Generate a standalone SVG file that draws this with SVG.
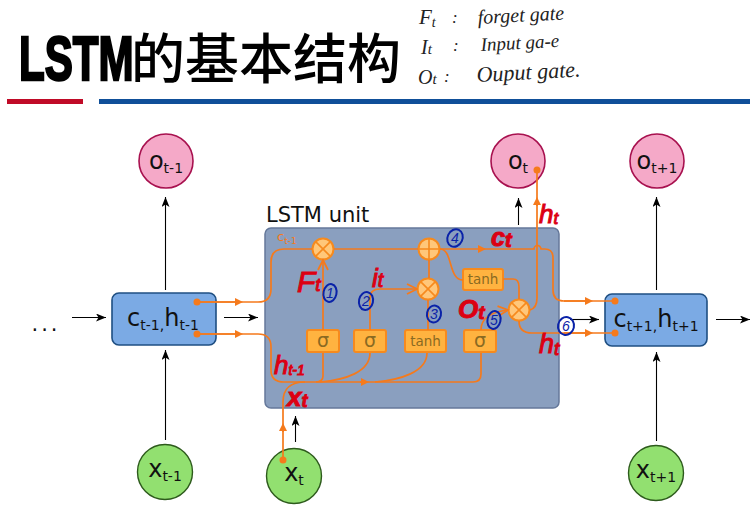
<svg xmlns="http://www.w3.org/2000/svg" width="750" height="507" viewBox="0 0 750 507">
<style>
.s{font-family:"DejaVu Sans","Noto Sans CJK SC",sans-serif}
.lab{font-size:24px;fill:#111;text-anchor:middle}
.sub{font-size:14px}
.o{fill:#f5a9c8;stroke:#a8114f;stroke-width:1.6}
.x{fill:#92e070;stroke:#2d5a1c;stroke-width:1.4}
.b{fill:#7baae4;stroke:#1f4f82;stroke-width:1.6}
.bl{fill:none;stroke:#000;stroke-width:1.1}
.or{fill:none;stroke:#f57a1c;stroke-width:1.7}
.g{fill:#ffc77a;stroke:#f68a1e;stroke-width:2}
.sq{fill:#ffb340;stroke:#f68a1e;stroke-width:2}
.gl{fill:none;stroke:#f68a1e;stroke-width:1.6}
.gt{fill:#8a6a22;text-anchor:middle}
.r{font-family:"Liberation Sans",sans-serif;font-style:italic;fill:#dc0012;stroke:#dc0012;stroke-width:1}
.n{fill:none;stroke:#0a22a8;stroke-width:2}
.nt{font-family:"Liberation Sans",sans-serif;font-size:14px;fill:#0a22a8;text-anchor:middle;font-style:italic}
.h{font-family:"Liberation Serif",serif;font-style:italic;font-size:17px;fill:#222}
</style>
<defs>
<marker id="ba" markerWidth="11" markerHeight="8" refX="10" refY="4" orient="auto" markerUnits="userSpaceOnUse"><path d="M0 0L10 4L0 8L2.500 4Z" fill="#000"/></marker>
<marker id="oa" markerWidth="9" markerHeight="8" refX="5" refY="4" orient="auto" markerUnits="userSpaceOnUse"><path d="M0 0L8 4L0 8Z" fill="#f57a1c"/></marker>
<marker id="oo" markerWidth="13" markerHeight="12" refX="11" refY="6" orient="auto" markerUnits="userSpaceOnUse"><path d="M1 1L11 6L1 11" fill="none" stroke="#f57a1c" stroke-width="1.8"/></marker>
</defs>
<g id="title">
<text transform="translate(19 80) scale(.68 1)" font-family="Liberation Sans" font-weight="bold" font-size="62" stroke="#000" stroke-width="2.400">LSTM</text>
<text x="131" y="79" font-family="Noto Sans CJK SC,sans-serif" font-size="54" font-weight="500" fill="#000">的基本结构</text>
<rect x="7" y="99" width="76" height="5" fill="#c00a27"/>
<rect x="99" y="99" width="651" height="5" fill="#0f4f99"/>
</g>
<g id="notes" class="h">
<text x="419" y="24" font-size="21">F<tspan font-size="14" dy="3">t</tspan></text>
<text x="452" y="23">:</text>
<text x="478" y="24" font-size="20" transform="rotate(-3 478 24)">forget gate</text>
<text x="421" y="54" font-size="20">I<tspan font-size="15">t</tspan></text>
<text x="453" y="51">:</text>
<text x="481" y="51" font-size="19" transform="rotate(-3 481 51)">Input ga-e</text>
<text x="418" y="84" font-size="20">O<tspan font-size="15">t</tspan></text>
<text x="444" y="82">:</text>
<text x="477" y="82" font-size="22" transform="rotate(-3 477 82)">Ouput gate.</text>
</g>
<g id="lstm-unit">
<rect x="265" y="228" width="294" height="180" rx="6" fill="#8a9fbf" stroke="#65789a" stroke-width="1.500"/>
<text class="s" x="266" y="222" font-size="21" fill="#111">LSTM unit</text>
<text class="s" x="277" y="241" font-size="13" fill="#f57a1c">c<tspan font-size="9" dy="3">t-1</tspan></text>
</g>
<g id="gate-forget"><circle class="g" cx="323" cy="249" r="10.500"/><path class="gl" d="M315.600 241.600L330.400 256.400M330.400 241.600L315.600 256.400"/></g>
<g id="gate-add"><circle class="g" cx="429" cy="249" r="10.500"/><path class="gl" d="M418.500 249H439.500M429 238.500V259.500"/></g>
<g id="gate-input"><circle class="g" cx="428" cy="289" r="10.500"/><path class="gl" d="M420.600 281.600L435.400 296.400M435.400 281.600L420.600 296.400"/></g>
<g id="gate-output"><circle class="g" cx="519" cy="310" r="10.500"/><path class="gl" d="M511.600 302.600L526.400 317.400M526.400 302.600L511.600 317.400"/></g>
<g id="sigma-1"><rect class="sq" x="307" y="330" width="32" height="22" rx="2"/><text class="s gt" x="323" y="347" font-size="19">σ</text></g>
<g id="sigma-2"><rect class="sq" x="354" y="330" width="32" height="22" rx="2"/><text class="s gt" x="370" y="347" font-size="19">σ</text></g>
<g id="tanh-1"><rect class="sq" x="405" y="330" width="41" height="22" rx="2"/><text class="s gt" x="425.500" y="346" font-size="13.500">tanh</text></g>
<g id="sigma-3"><rect class="sq" x="464" y="330" width="32" height="22" rx="2"/><text class="s gt" x="480" y="347" font-size="19">σ</text></g>
<g id="tanh-2"><rect class="sq" x="463" y="269" width="40" height="21" rx="2"/><text class="s gt" x="483" y="284" font-size="13.500">tanh</text></g>
<g id="cell-left"><rect class="b" x="112" y="293" width="104" height="52" rx="7"/><text class="s lab" x="163" y="326">c<tspan class="sub" dy="4">t-1,</tspan><tspan dy="-4">h</tspan><tspan class="sub" dy="4">t-1</tspan></text></g>
<g id="cell-right"><rect class="b" x="605" y="294" width="102" height="52" rx="7"/><text class="s lab" x="656" y="327">c<tspan class="sub" dy="4">t+1,</tspan><tspan dy="-4">h</tspan><tspan class="sub" dy="4">t+1</tspan></text></g>
<g id="dots"><text class="s" x="46" y="331" font-size="21" fill="#111" text-anchor="middle" letter-spacing="3">...</text></g>
<g id="output-1"><circle class="o" cx="166" cy="161" r="27"/><text class="s lab" x="166" y="169">o<tspan class="sub" dy="4">t-1</tspan></text></g>
<g id="output-2"><circle class="o" cx="518" cy="161" r="27"/><text class="s lab" x="518" y="169">o<tspan class="sub" dy="4">t</tspan></text></g>
<g id="output-3"><circle class="o" cx="657" cy="161" r="27"/><text class="s lab" x="657" y="169">o<tspan class="sub" dy="4">t+1</tspan></text></g>
<g id="input-1"><circle class="x" cx="165" cy="472" r="27.500"/><text class="s lab" x="165" y="477">x<tspan class="sub" dy="4">t-1</tspan></text></g>
<g id="input-2"><circle class="x" cx="294" cy="476" r="27.500"/><text class="s lab" x="294" y="481">x<tspan class="sub" dy="4">t</tspan></text></g>
<g id="input-3"><circle class="x" cx="656" cy="473" r="27.500"/><text class="s lab" x="656" y="478">x<tspan class="sub" dy="4">t+1</tspan></text></g>
<g id="connectors">
<g class="bl">
<path d="M165.500 290V197" marker-end="url(#ba)"/>
<path d="M165.500 440V350" marker-end="url(#ba)"/>
<path d="M518.500 225V198" marker-end="url(#ba)"/>
<path d="M656.500 290V197" marker-end="url(#ba)"/>
<path d="M656.500 441V352" marker-end="url(#ba)"/>
<path d="M295.500 442V416" marker-end="url(#ba)"/>
<path d="M72 317.500H106" marker-end="url(#ba)"/>
<path d="M224 317.500H258" marker-end="url(#ba)"/>
<path d="M570 319.500H599" marker-end="url(#ba)"/>
<path d="M716 319.500H750" marker-end="url(#ba)"/>
</g>
<g class="or">
<path d="M197 302H258Q271 302 271 289V262Q271 249 284 249H312"/>
<path d="M197 302H240" marker-end="url(#oa)"/>
<path d="M197 334H258Q271 334 271 347V370Q271 382 284 382H473Q481 382 481 374V353"/>
<path d="M197 334H240" marker-end="url(#oa)"/>
<path d="M334 249H418"/>
<path d="M440 249H483" marker-end="url(#oa)"/>
<path d="M483 249H534A3.500 3.500 0 0 1 541 249H545Q553 249 553 258V290Q553 301 564 301H615"/>
<path d="M564 301H590" marker-end="url(#oa)"/>
<path d="M323 330V260" marker-end="url(#oo)"/>
<path d="M323 353V376Q323 382 316 382"/>
<path d="M370 330V298Q370 289 380 289H417" marker-end="url(#oo)"/>
<path d="M370 353C370 372 345 380 320 382"/>
<path d="M427 353C427 372 400 380 375 382"/>
<path d="M428 330V300M429 278V260"/>
<path d="M440 249C453 249 448 280 463 280"/>
<path d="M503 279H513Q519 279 519 287V299"/>
<path d="M481 330C481 318 490 312 508 310" marker-end="url(#oo)"/>
<path d="M530 310Q537 308 537 298V170"/>
<path d="M537 206V200" marker-end="url(#oa)"/>
<path d="M519 321Q519 333 532 333H615"/>
<path d="M564 333H590" marker-end="url(#oa)"/>
<path d="M283 460V402Q283 382 305 382"/>
<path d="M283 432V426" marker-end="url(#oa)"/>
<path d="M360 382H366" marker-end="url(#oa)"/>
</g>
<g fill="#f57a1c">
<circle cx="197" cy="302" r="3.500"/><circle cx="197" cy="334" r="3.500"/>
<circle cx="615" cy="301" r="3.500"/><circle cx="615" cy="333" r="3.500"/>
<circle cx="283" cy="460" r="3.500"/><circle cx="537" cy="170" r="3.500"/>
</g>
</g>
<g id="annotations">
<text class="r" x="297" y="292" font-size="30">F<tspan font-size="19" dy="-1">t</tspan></text>
<text class="r" x="372" y="287" font-size="26">i<tspan font-size="20">t</tspan></text>
<text class="r" x="491" y="246" font-size="25" font-weight="bold">c<tspan font-size="20" dy="1">t</tspan></text>
<text class="r" x="458" y="318" font-size="26" font-weight="bold">O<tspan font-size="19" dy="1">t</tspan></text>
<text class="r" x="539" y="223" font-size="26">h<tspan font-size="17" dy="1">t</tspan></text>
<text class="r" x="539" y="353" font-size="27">h<tspan font-size="19" dy="2">t</tspan></text>
<text class="r" x="274" y="374" font-size="26">h<tspan font-size="14" dy="1">t-1</tspan></text>
<text class="r" x="287" y="406" font-size="26" font-weight="bold">x<tspan font-size="18" dy="1">t</tspan></text>
<ellipse class="n" cx="330" cy="293" rx="6.500" ry="9" transform="rotate(12 330 293)"/><text class="nt" x="330" y="298">1</text>
<ellipse class="n" cx="366" cy="301" rx="7" ry="9" transform="rotate(12 366 301)"/><text class="nt" x="366" y="306">2</text>
<ellipse class="n" cx="434" cy="314" rx="7" ry="8.500" transform="rotate(12 434 314)"/><text class="nt" x="434" y="319">3</text>
<ellipse class="n" cx="455" cy="238" rx="7.500" ry="9" transform="rotate(25 455 238)"/><text class="nt" x="455" y="243">4</text>
<ellipse class="n" cx="494" cy="320" rx="6.500" ry="9" transform="rotate(12 494 320)"/><text class="nt" x="494" y="325">5</text>
<ellipse class="n" cx="566" cy="326" rx="8" ry="9" transform="rotate(12 566 326)"/><text class="nt" x="566" y="331">6</text>
</g>
</svg>
